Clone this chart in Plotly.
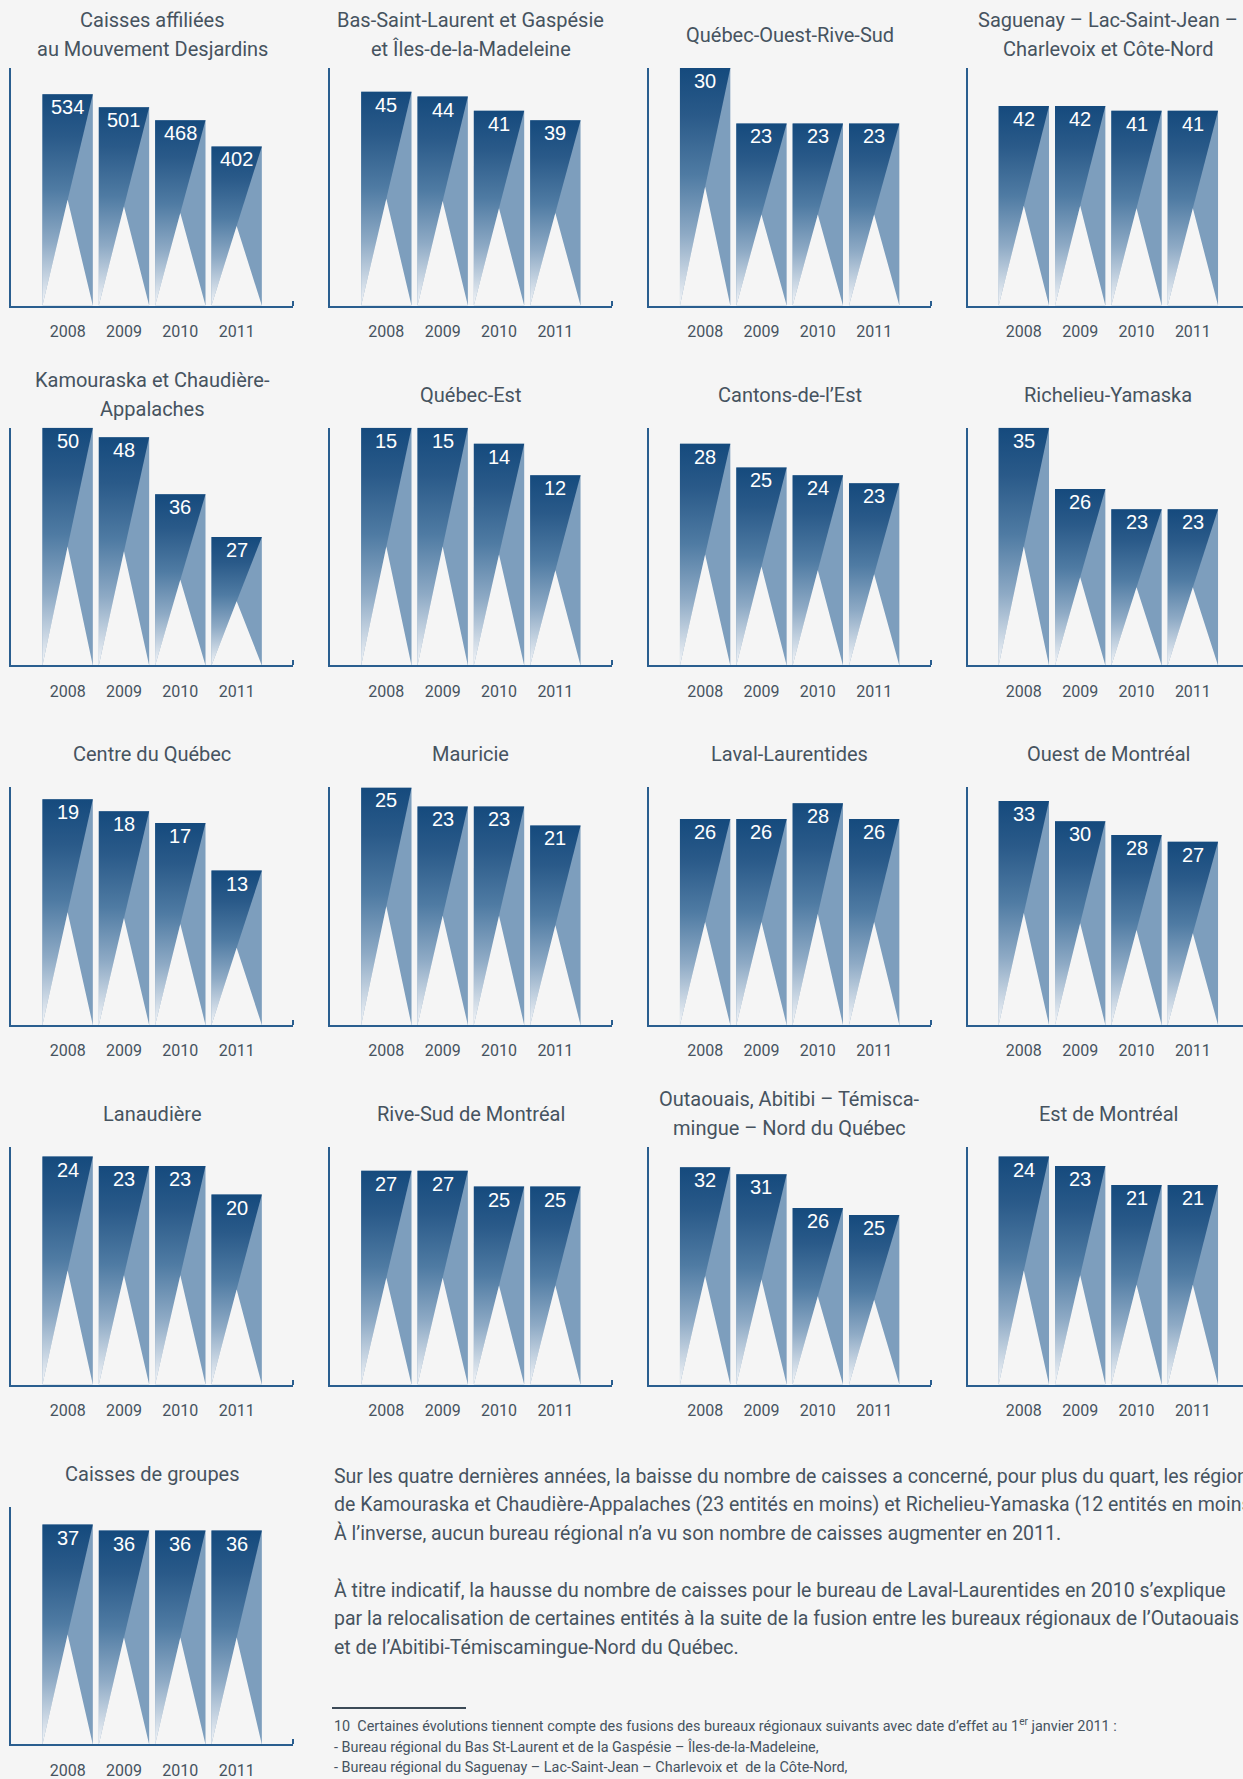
import plotly.graph_objects as go

# ---------------- data ----------------
years = ["2008", "2009", "2010", "2011"]

titles = [
    "Caisses affiliées\nau Mouvement Desjardins",
    "Bas-Saint-Laurent et Gaspésie\net Îles-de-la-Madeleine",
    "Québec-Ouest-Rive-Sud",
    "Saguenay – Lac-Saint-Jean –\nCharlevoix et Côte-Nord",
    "Kamouraska et Chaudière-\nAppalaches",
    "Québec-Est",
    "Cantons-de-l’Est",
    "Richelieu-Yamaska",
    "Centre du Québec",
    "Mauricie",
    "Laval-Laurentides",
    "Ouest de Montréal",
    "Lanaudière",
    "Rive-Sud de Montréal",
    "Outaouais, Abitibi – Témisca-\nmingue – Nord du Québec",
    "Est de Montréal",
    "Caisses de groupes",
]

values = [
    [534, 501, 468, 402],
    [45, 44, 41, 39],
    [30, 23, 23, 23],
    [42, 42, 41, 41],
    [50, 48, 36, 27],
    [15, 15, 14, 12],
    [28, 25, 24, 23],
    [35, 26, 23, 23],
    [19, 18, 17, 13],
    [25, 23, 23, 21],
    [26, 26, 28, 26],
    [33, 30, 28, 27],
    [24, 23, 23, 20],
    [27, 27, 25, 25],
    [32, 31, 26, 25],
    [24, 23, 21, 21],
    [37, 36, 36, 36],
]

y_max = [600, 50, 30, 50, 50, 15, 30, 35, 20, 25, 30, 35, 25, 30, 35, 25, 40]

paragraph = [
    "Sur les quatre dernières années, la baisse du nombre de caisses a concerné, pour plus du quart, les régions",
    "de Kamouraska et Chaudière-Appalaches (23 entités en moins) et Richelieu-Yamaska (12 entités en moins).",
    "À l’inverse, aucun bureau régional n’a vu son nombre de caisses augmenter en 2011.",
    "",
    "À titre indicatif, la hausse du nombre de caisses pour le bureau de Laval-Laurentides en 2010 s’explique",
    "par la relocalisation de certaines entités à la suite de la fusion entre les bureaux régionaux de l’Outaouais",
    "et de l’Abitibi-Témiscamingue-Nord du Québec.",
]

footnotes = [
    "10  Certaines évolutions tiennent compte des fusions des bureaux régionaux suivants avec date d’effet au 1<sup>er</sup> janvier 2011 :",
    "- Bureau régional du Bas St-Laurent et de la Gaspésie – Îles-de-la-Madeleine,",
    "- Bureau régional du Saguenay – Lac-Saint-Jean – Charlevoix et  de la Côte-Nord,",
]

# ---------------- style ----------------
W_FIG, H_FIG = 1243, 1779
BG = "#f5f5f5"
LIGHT = "#7d9ebd"
AXIS = "#2a5e8f"
TEXT = "#46535f"
GRAD = [[0.0, "#f3f5f8"], [0.3, "#8eaac5"], [0.55, "#4f7ba3"],
        [0.8, "#2a5a89"], [1.0, "#154a7d"]]
COND = "Roboto, Liberation Sans, Arial, sans-serif"
SANS = "Liberation Sans, Arial, sans-serif"

col_left = [11.3, 330.0, 648.8, 967.5]
row_top = [68.0, 427.8, 787.4, 1147.0, 1506.8]
PW, PH = 281.7, 237.6
X0, X1 = -1.0, 4.0
BW = 0.894

fig = go.Figure()
layout = {}
annotations = []

for i, (title, vals, ymax) in enumerate(zip(titles, values, y_max)):
    r, c = divmod(i, 4)
    sfx = "" if i == 0 else str(i + 1)
    xa, ya = "x" + sfx, "y" + sfx
    left = col_left[c]
    right = min(left + PW, W_FIG)
    x_hi = X0 + (X1 - X0) * (right - left) / PW
    top = row_top[r]
    bottom = top + PH

    layout["xaxis" + sfx] = dict(
        domain=[left / W_FIG, right / W_FIG], range=[X0, x_hi], anchor=ya,
        tickmode="array", tickvals=list(range(len(years))), ticktext=years,
        tickfont=dict(family=COND, size=16, color=TEXT),
        showline=True, linecolor=AXIS, linewidth=2, ticks="",
        ticklabelstandoff=10,
        minor=dict(tickmode="array", tickvals=[X1], ticks="inside",
                   ticklen=5, tickwidth=2, tickcolor=AXIS),
        showgrid=False, zeroline=False, fixedrange=True,
    )
    layout["yaxis" + sfx] = dict(
        domain=[1 - bottom / H_FIG, 1 - top / H_FIG], range=[0, ymax], anchor=xa,
        showline=True, linecolor=AXIS, linewidth=2, ticks="",
        showticklabels=False, showgrid=False, zeroline=False, fixedrange=True,
    )

    idx = list(range(len(vals)))
    fig.add_trace(go.Bar(
        x=idx, y=vals, width=BW, marker=dict(color=LIGHT, line=dict(width=0)),
        xaxis=xa, yaxis=ya, hoverinfo="skip",
    ))
    for j, v in zip(idx, vals):
        fig.add_trace(go.Scatter(
            x=[j - BW / 2, j + BW / 2, j - BW / 2, j - BW / 2],
            y=[v, v, 0, v],
            fill="toself",
            fillgradient=dict(type="vertical", colorscale=GRAD),
            mode="lines", line=dict(width=0, color="rgba(0,0,0,0)"),
            xaxis=xa, yaxis=ya, hoverinfo="skip",
        ))
    wx, wy = [], []
    for j, v in zip(idx, vals):
        wx += [j - BW / 2, j + BW / 2, j, j - BW / 2, None]
        wy += [0, 0, v / 2, 0, None]
    fig.add_trace(go.Scatter(
        x=wx, y=wy, fill="toself", fillcolor=BG,
        mode="lines", line=dict(width=0, color="rgba(0,0,0,0)"),
        xaxis=xa, yaxis=ya, hoverinfo="skip",
    ))
    for j, v in zip(idx, vals):
        annotations.append(dict(
            x=j, y=v, xref=xa, yref=ya, text=str(v), showarrow=False,
            xanchor="center", yanchor="top", yshift=0,
            font=dict(family=SANS, size=20, color="white"),
        ))

    lines = title.split("\n")
    offs = [-33.0] if len(lines) == 1 else [-47.6, -19.0]
    for line, off in zip(lines, offs):
        annotations.append(dict(
            x=(left + PW / 2) / W_FIG, y=1 - (top + off) / H_FIG,
            xref="paper", yref="paper", text=line, showarrow=False,
            xanchor="center", yanchor="middle",
            font=dict(family=COND, size=20, color=TEXT),
        ))

# paragraph text
TX = 332.0
P_FS = 19.5
for k, line in enumerate(paragraph):
    if not line:
        continue
    base = 1482.7 + 28.5 * k
    annotations.append(dict(
        x=TX / W_FIG, y=1 - (base - 0.34 * P_FS) / H_FIG, xref="paper", yref="paper",
        text=line, showarrow=False, xanchor="left", yanchor="middle",
        font=dict(family=COND, size=P_FS, color=TEXT),
    ))
F_FS = 14.4
for k, line in enumerate(footnotes):
    base = 1732.7 + 20.3 * k
    annotations.append(dict(
        x=TX / W_FIG, y=1 - (base + 0.244 * F_FS + 1) / H_FIG, xref="paper", yref="paper",
        text=line, showarrow=False, xanchor="left", yanchor="bottom",
        font=dict(family=COND, size=F_FS, color=TEXT),
    ))

shapes = [dict(type="line", xref="paper", yref="paper",
               x0=TX / W_FIG, x1=466 / W_FIG,
               y0=1 - 1708 / H_FIG, y1=1 - 1708 / H_FIG,
               line=dict(color="#3c4a57", width=2))]

fig.update_layout(
    width=W_FIG, height=H_FIG, margin=dict(l=0, r=0, t=0, b=0),
    paper_bgcolor=BG, plot_bgcolor=BG, showlegend=False, hovermode=False,
    barmode="overlay", annotations=annotations, shapes=shapes, **layout,
)

fig.write_html(
    "out.html",
    config={"displayModeBar": False},
    post_script="document.body.style.margin='0';document.body.style.background='#f5f5f5';",
)
